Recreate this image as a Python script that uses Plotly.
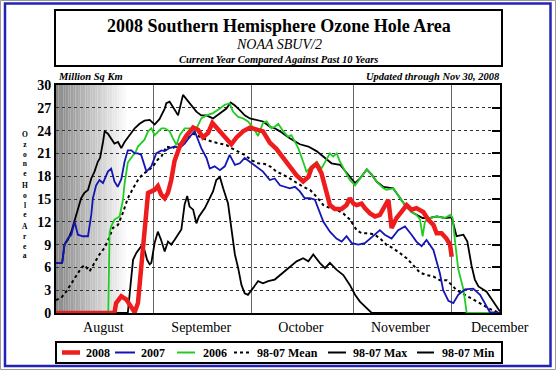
import plotly.graph_objects as go

# ---------------- data (x = day of year, y = million sq km) ----------------
days_2008 = [214, 231.9, 232.4, 234.0, 235.5, 236.5, 238.1, 239.1, 240.1, 241.1, 242.2, 243.2, 244.2, 245.2,
             246.2, 247.3, 248.3, 249.3, 250.3, 251.9, 253.9, 256.0, 257.5, 259.0, 260.6, 261.9, 263.1, 264.7,
             266.2, 267.7, 269.3, 271.3, 273.4, 275.4, 277.4, 279.5, 281.5, 283.6, 285.6, 287.7, 289.7, 291.3,
             292.3, 293.8, 295.3, 296.9, 297.9, 299.4, 301.5, 303.0, 304.0, 305.1, 306.1, 307.6, 308.6, 310.2,
             311.7, 313.2, 314.2, 315.8, 316.8, 318.3, 319.8, 321.4, 322.9, 324.4, 326.5, 328.0, 329.6, 330.6,
             332.1, 333.6, 334.7, 335.2]
area_2008 = [0, 0, 1.3, 2.2, 1.8, 1.1, 0.1, 1.3, 5.7, 11.4, 15.8, 16.0, 16.2, 16.7,
             15.6, 15.1, 15.8, 17.5, 20.0, 21.9, 23.3, 24.4, 24.1, 23.1, 23.7, 25.0, 24.4, 23.7,
             22.8, 22.2, 23.1, 23.9, 24.4, 24.1, 23.9, 22.4, 21.6, 20.4, 19.3, 18.1, 17.3, 17.9,
             19.1, 19.6, 18.4, 16.1, 14.2, 13.7, 13.7, 14.2, 15.1, 14.4, 14.2, 14.4, 13.8, 13.1,
             12.7, 12.9, 13.8, 14.9, 11.2, 12.5, 13.3, 14.2, 13.6, 13.8, 13.3, 12.3, 11.6, 10.5,
             10.5, 9.8, 9.0, 7.4]

days_2007 = [214, 215.9, 216.6, 217.6, 218.7, 219.7, 220.7, 222.2, 223.8, 224.8, 225.3, 226.3, 227.3, 228.4,
             229.9, 230.9, 231.9, 232.9, 234.0, 235.0, 236.0, 237.1, 238.1, 239.1, 240.1, 241.7, 243.2, 244.7,
             246.3, 247.3, 248.8, 250.4, 251.9, 253.4, 255.0, 256.5, 257.5, 258.5, 260.1, 261.1, 262.6, 264.2,
             265.7, 267.2, 268.8, 270.3, 271.8, 273.4, 275.4, 277.4, 279.5, 281.0, 282.6, 284.1, 285.6, 287.2,
             288.7, 290.2, 291.8, 293.3, 295.9, 297.9, 299.9, 301.5, 303.0, 304.6, 306.6, 308.6, 310.2, 311.7,
             313.2, 314.7, 316.8, 318.8, 320.9, 322.9, 324.4, 326.0, 327.5, 329.6, 331.6, 332.6, 334.2, 335.7,
             337.2, 339.3, 341.8, 343.9, 345.9, 346.9, 350]
area_2007 = [6.6, 6.6, 9.0, 9.8, 10.3, 12.0, 10.3, 10.1, 10.1, 12.9, 15.1, 16.8, 17.5, 17.1,
             18.6, 19.0, 17.3, 16.6, 17.6, 19.9, 21.4, 21.4, 21.0, 21.0, 20.8, 18.6, 19.3, 21.0,
             21.4, 21.3, 21.7, 21.9, 21.7, 22.3, 23.2, 23.9, 22.8, 21.7, 20.4, 19.0, 19.3, 18.8,
             19.3, 20.8, 19.5, 19.7, 20.4, 19.9, 19.3, 18.6, 17.5, 17.7, 16.8, 16.6, 16.4, 16.6,
             16.0, 15.1, 15.1, 14.9, 12.0, 10.7, 9.8, 9.4, 10.1, 9.2, 9.0, 9.2, 9.8, 10.3,
             10.9, 10.3, 9.8, 10.9, 11.4, 10.3, 9.4, 8.8, 9.6, 8.3, 5.2, 3.0, 1.6, 1.3,
             2.4, 3.1, 3.2, 2.4, 0.9, 0.1, 0]

days_2006 = [214, 230.0, 230.4, 230.9, 231.9, 233.5, 234.5, 235.0, 236.0, 236.5, 237.6, 238.4, 239.1, 240.1,
             241.1, 242.2, 243.2, 244.2, 245.2, 246.3, 247.3, 248.8, 249.8, 250.9, 251.9, 253.4, 254.9, 256.5,
             257.5, 258.5, 260.1, 262.1, 264.2, 265.7, 267.2, 268.2, 269.8, 271.3, 272.8, 274.4, 275.9, 277.4,
             278.5, 280.0, 281.0, 282.1, 283.6, 285.1, 286.1, 287.2, 288.2, 289.7, 290.7, 292.3, 293.8, 295.3,
             297.9, 298.9, 300.0, 301.0, 302.5, 304.0, 305.6, 307.1, 309.2, 310.7, 312.2, 314.3, 315.2, 317.3,
             318.8, 320.9, 322.9, 324.4, 325.5, 326.3, 327.0, 328.5, 330.6, 333.1, 334.7, 335.5, 336.2, 337.2,
             338.8, 339.8, 350]
area_2006 = [0, 0, 10.5, 11.4, 12.3, 12.7, 14.9, 17.0, 19.8, 20.1, 20.6, 21.2, 21.9, 22.3,
             22.8, 23.9, 24.3, 23.4, 23.9, 24.3, 24.3, 23.9, 23.0, 22.1, 23.4, 24.3, 24.3, 23.9,
             24.7, 25.6, 26.0, 26.3, 26.9, 27.4, 27.6, 26.5, 25.8, 25.6, 25.2, 24.4, 23.3, 25.0,
             25.2, 24.3, 24.5, 24.9, 23.9, 23.2, 23.4, 22.5, 21.7, 19.9, 18.6, 19.3, 19.9, 19.0,
             21.0, 20.6, 21.0, 19.9, 18.6, 17.5, 16.8, 17.7, 18.9, 18.2, 17.3, 16.4, 16.2, 16.4,
             15.5, 14.2, 13.3, 12.9, 12.3, 10.1, 12.0, 12.5, 12.7, 12.5, 12.9, 12.5, 9.5, 5.8,
             3.1, 0, 0]

days_mean = [214, 215.6, 217.1, 218.7, 220.2, 221.7, 222.7, 224.3, 225.8, 227.3, 228.9, 230.4, 231.4, 233.0,
             234.5, 236.0, 237.6, 239.1, 240.6, 242.2, 243.7, 245.2, 246.3, 247.8, 249.8, 251.9, 253.9, 256.0,
             258.0, 260.1, 262.1, 264.2, 266.2, 267.7, 269.8, 271.8, 273.9, 275.9, 278.0, 280.0, 281.5, 283.6,
             285.6, 287.7, 289.7, 291.8, 293.8, 295.9, 297.9, 299.9, 302.0, 304.0, 306.1, 307.6, 309.7, 311.7,
             313.5, 315.2, 317.3, 319.3, 321.4, 323.4, 325.5, 327.5, 329.6, 331.6, 333.7, 335.2, 336.7, 338.8,
             340.8, 342.9, 344.9, 347.5, 350]
area_mean = [1.7, 2.0, 2.8, 3.9, 5.0, 5.9, 6.3, 5.5, 6.6, 7.7, 8.6, 10.0, 11.2, 11.6,
             13.2, 15.1, 16.4, 17.5, 18.3, 18.7, 19.3, 20.2, 20.6, 21.9, 21.7, 22.3, 22.8, 23.6,
             23.2, 22.8, 22.5, 22.3, 22.1, 21.7, 21.2, 20.8, 20.1, 19.7, 19.6, 19.2, 18.6, 18.2,
             17.7, 17.1, 16.6, 16.2, 15.3, 14.2, 13.8, 13.6, 13.1, 12.3, 10.9, 10.5, 10.5, 10.3,
             9.7, 9.0, 8.5, 7.9, 7.2, 6.3, 5.3, 5.0, 4.8, 4.3, 4.3, 3.7, 3.0, 2.5,
             2.0, 1.5, 1.0, 0.4, 0]

days_max = [214, 215.9, 216.6, 217.6, 218.7, 220.2, 221.7, 222.7, 223.8, 224.8, 225.8, 226.8, 227.5, 228.4,
            228.9, 229.9, 230.9, 231.9, 233.0, 234.0, 235.0, 236.5, 238.1, 239.6, 241.1, 242.7, 244.2, 245.7,
            247.3, 247.8, 248.8, 250.4, 251.4, 252.9, 253.9, 255.5, 257.0, 258.5, 260.1, 262.1, 264.2, 266.2,
            267.5, 268.8, 270.3, 271.8, 273.4, 275.4, 277.4, 279.5, 281.0, 282.6, 285.6, 288.7, 291.3, 293.8,
            295.9, 298.4, 301.0, 303.0, 305.6, 307.1, 309.2, 310.7, 312.2, 314.3, 317.3, 318.8, 320.9, 322.9,
            324.4, 326.3, 328.5, 330.6, 333.1, 335.2, 336.7, 338.8, 340.0, 341.3, 342.3, 343.4, 345.9, 347.9,
            350]
area_max = [6.6, 6.6, 9.0, 9.6, 10.7, 12.9, 15.1, 15.8, 16.2, 17.7, 18.6, 19.9, 20.4, 22.5,
            23.9, 23.6, 23.0, 22.3, 22.5, 21.7, 22.5, 23.4, 24.3, 24.9, 25.3, 25.4, 24.8, 25.5,
            26.9, 27.6, 27.8, 26.7, 26.0, 28.7, 28.2, 27.4, 26.5, 26.0, 26.0, 25.6, 26.3, 26.9,
            27.7, 27.3, 26.7, 26.0, 25.6, 25.4, 25.2, 24.5, 24.3, 23.9, 23.0, 22.2, 21.9, 21.3,
            20.6, 19.7, 19.5, 18.4, 17.1, 17.7, 18.9, 18.2, 17.3, 16.6, 16.4, 15.5, 14.2, 13.3,
            12.9, 12.5, 12.5, 12.7, 12.5, 12.6, 10.1, 10.3, 9.4, 6.2, 4.4, 3.5, 2.8, 1.5,
            0.2]

days_min = [214, 236.0, 236.7, 237.6, 238.6, 240.1, 241.1, 241.9, 242.7, 243.2, 244.2, 245.2, 246.2, 247.3,
            248.3, 249.3, 250.3, 251.4, 252.4, 253.4, 254.2, 254.9, 256.0, 257.0, 257.8, 259.6, 261.1, 262.1,
            263.1, 264.2, 265.2, 266.7, 267.7, 268.8, 269.8, 270.8, 271.8, 272.8, 274.4, 275.9, 277.4, 279.0,
            281.0, 283.6, 285.6, 287.7, 289.7, 291.3, 292.8, 294.8, 296.4, 297.9, 299.9, 302.0, 304.0, 305.6,
            307.1, 309.2, 310.7, 350]
area_min = [0, 0, 3.1, 7.0, 7.9, 8.8, 8.3, 7.0, 6.4, 6.6, 9.2, 10.7, 9.6, 8.1,
            9.4, 9.0, 9.6, 10.3, 11.0, 14.3, 15.4, 14.0, 13.6, 11.8, 12.7, 13.8, 15.1, 16.0,
            17.5, 17.9, 16.4, 14.4, 11.2, 7.7, 5.9, 3.7, 2.6, 2.4, 3.3, 4.2, 3.9, 4.2,
            4.4, 5.3, 6.1, 6.8, 7.2, 6.8, 7.7, 6.6, 5.9, 6.6, 5.7, 5.0, 3.7, 2.4,
            1.5, 0.7, 0, 0]

month_starts = [244, 274, 305, 335]
month_label_days = [228.5, 258.5, 289, 319.5, 349.9]
month_labels = ["August", "September", "October", "November", "December"]
y_tick_vals = list(range(0, 31, 3))
x_range = [214, 350]

series_names = ["2008", "2007", "2006", "98-07 Mean", "98-07 Max", "98-07 Min"]
y_title_words = ["Ozone", "Hole", "Area"]

# ---------------- layout helpers ----------------
W, H = 556, 370
L, R, T, B = 56, 56, 85, 57
PW = W - L - R
PH = H - T - B
SERIF = "Liberation Serif, Times New Roman, serif"


def px_x(px):
    return (px - L) / PW


def px_y(py):
    return (H - B - py) / PH


RED = "#ee1c1c"
BLUE = "#1515b5"
GREEN = "#22cc22"
BLACK = "#000000"

fig = go.Figure()
fig.add_trace(go.Scatter(x=days_min, y=area_min, mode="lines", name=series_names[5],
                         line=dict(color=BLACK, width=1.8)))
fig.add_trace(go.Scatter(x=days_max, y=area_max, mode="lines", name=series_names[4],
                         line=dict(color=BLACK, width=1.8)))
fig.add_trace(go.Scatter(x=days_mean, y=area_mean, mode="lines", name=series_names[3],
                         line=dict(color=BLACK, width=2, dash="dot")))
fig.add_trace(go.Scatter(x=days_2006, y=area_2006, mode="lines", name=series_names[2],
                         line=dict(color=GREEN, width=1.8)))
fig.add_trace(go.Scatter(x=days_2007, y=area_2007, mode="lines", name=series_names[1],
                         line=dict(color=BLUE, width=1.8)))
fig.add_trace(go.Scatter(x=days_2008, y=area_2008, mode="lines", name=series_names[0],
                         line=dict(color=RED, width=4.5)))
# carrier for the right-hand tick axis
fig.add_trace(go.Scatter(x=[None], y=[None], yaxis="y2", showlegend=False, hoverinfo="skip"))

shapes = []
# polar-night gradient on the left
n_steps = 30
g0, g1 = 214.0, 236.5
for i in range(n_steps):
    t = i / (n_steps - 1)
    g = int(round(135 + (255 - 135) * t))
    shapes.append(dict(type="rect", xref="x", yref="paper",
                       x0=g0 + (g1 - g0) * i / n_steps, x1=g0 + (g1 - g0) * (i + 1) / n_steps,
                       y0=0, y1=1, fillcolor=f"rgb({g},{g},{g})", line=dict(width=0), layer="below"))

# title box
shapes.append(dict(type="rect", xref="paper", yref="paper",
                   x0=px_x(55), x1=px_x(502), y0=px_y(66), y1=px_y(10),
                   line=dict(color=BLACK, width=2)))
# legend box
shapes.append(dict(type="rect", xref="paper", yref="paper",
                   x0=px_x(56), x1=px_x(502), y0=px_y(363), y1=px_y(342),
                   line=dict(color=BLACK, width=2), fillcolor="white"))
# outer frames
shapes.append(dict(type="rect", xref="paper", yref="paper",
                   x0=px_x(0.5), x1=px_x(555.5), y0=px_y(369.5), y1=px_y(0.5),
                   line=dict(color="#9a9a9a", width=1)))
shapes.append(dict(type="rect", xref="paper", yref="paper",
                   x0=px_x(5), x1=px_x(550.5), y0=px_y(366), y1=px_y(3.5),
                   line=dict(color="#2323b8", width=2.5)))

# legend samples
leg_y = px_y(352.5)
leg_items = [
    (62, 80, 84, RED, 4.5, "solid", series_names[0]),
    (115, 135, 139, BLUE, 2, "solid", series_names[1]),
    (177, 195, 201, GREEN, 2, "solid", series_names[2]),
    (234, 251, 255, BLACK, 2, "dot", series_names[3]),
    (328, 346, 351, BLACK, 2, "solid", series_names[4]),
    (417, 434, 440, BLACK, 2, "solid", series_names[5]),
]
annotations = []
for x0, x1, tx, col, wdt, dash, label in leg_items:
    shapes.append(dict(type="line", xref="paper", yref="paper",
                       x0=px_x(x0), x1=px_x(x1), y0=leg_y, y1=leg_y,
                       line=dict(color=col, width=wdt, dash=dash)))
    annotations.append(dict(xref="paper", yref="paper", x=px_x(tx), y=leg_y,
                            xanchor="left", yanchor="middle", showarrow=False,
                            text=f"<b>{label}</b>", font=dict(family=SERIF, size=12, color=BLACK)))

# titles
annotations += [
    dict(xref="paper", yref="paper", x=px_x(278.5), y=px_y(26), xanchor="center", yanchor="middle",
         showarrow=False, text="<b>2008 Southern Hemisphere Ozone Hole Area</b>",
         font=dict(family=SERIF, size=18, color=BLACK)),
    dict(xref="paper", yref="paper", x=px_x(278.5), y=px_y(44), xanchor="center", yanchor="middle",
         showarrow=False, text="<i>NOAA SBUV/2</i>",
         font=dict(family=SERIF, size=14, color=BLACK)),
    dict(xref="paper", yref="paper", x=px_x(278.5), y=px_y(59.5), xanchor="center", yanchor="middle",
         showarrow=False, text="<b><i>Current Year Compared Against Past 10 Years</i></b>",
         font=dict(family=SERIF, size=10.5, color=BLACK)),
    dict(xref="paper", yref="paper", x=px_x(56), y=px_y(77), xanchor="left", yanchor="middle",
         showarrow=False, text="<b><i>Million Sq Km</i></b>",
         font=dict(family=SERIF, size=10.5, color=BLACK)),
    dict(xref="paper", yref="paper", x=px_x(502), y=px_y(77), xanchor="right", yanchor="middle",
         showarrow=False, text="<b><i>Updated through Nov 30, 2008</i></b>",
         font=dict(family=SERIF, size=10.5, color=BLACK)),
]

# stacked y-axis title: one upright-letter column per word
word_centers = [154, 199.5, 240.5]
for word, cy in zip(y_title_words, word_centers):
    annotations.append(dict(xref="paper", yref="paper", x=px_x(25), y=px_y(cy),
                            xanchor="center", yanchor="middle", showarrow=False, borderpad=0,
                            text="<b>" + "<br>".join(word) + "</b>",
                            font=dict(family=SERIF, size=7.5, color=BLACK)))

fig.update_layout(
    width=W, height=H,
    margin=dict(l=L, r=R, t=T, b=B, pad=0),
    paper_bgcolor="white", plot_bgcolor="white",
    showlegend=False,
    shapes=shapes, annotations=annotations,
    xaxis=dict(range=x_range, tickmode="array", tickvals=month_label_days, ticktext=month_labels,
               ticks="", showgrid=False, zeroline=False,
               showline=True, linecolor=BLACK, linewidth=2, mirror=True,
               tickfont=dict(family=SERIF, size=14, color=BLACK),
               minor=dict(tickmode="array", tickvals=month_starts, showgrid=True,
                          gridcolor="#666666", gridwidth=1.3, ticks="")),
    yaxis=dict(range=[0, 30], tickmode="array", tickvals=y_tick_vals,
               ticktext=[f"<b>{v}</b>" for v in y_tick_vals],
               ticks="",
               showgrid=True, gridcolor="#333333", gridwidth=1, griddash="dot",
               zeroline=False, showline=True, linecolor=BLACK, linewidth=2, mirror=True,
               tickfont=dict(family=SERIF, size=14, color=BLACK)),
    yaxis2=dict(range=[0, 30], overlaying="y", side="right", tickmode="array", tickvals=y_tick_vals,
                ticks="inside", ticklen=8, tickwidth=2, tickcolor=BLACK,
                showticklabels=False, showgrid=False, zeroline=False),
)

fig.write_html("out.html", config={"displayModeBar": False},
               post_script="document.body.style.margin='0px';document.body.style.overflow='hidden';")
